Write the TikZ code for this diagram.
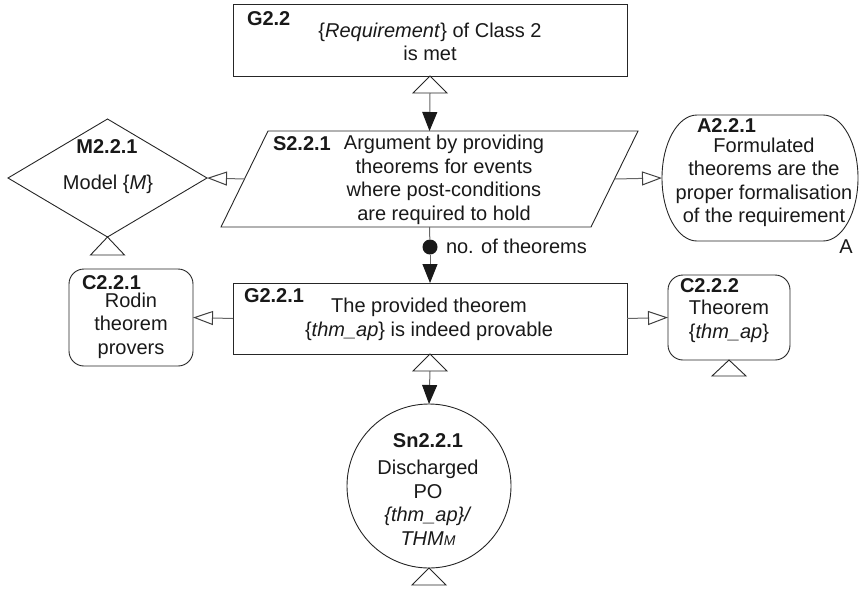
\documentclass[tikz,border=0pt]{standalone}
\usepackage{fontspec}
\setmainfont{Liberation Sans}
\usetikzlibrary{arrows.meta,shapes.geometric}
\begin{document}
\begin{tikzpicture}[x=1pt,y=-1pt,
  every node/.style={inner sep=0pt, outer sep=0pt},
  outline/.style={draw=black!85, line width=0.9pt},
  conn/.style={draw=black!60, line width=1pt},
  filltip/.style={-{Triangle[length=19pt,width=15pt,color=black!90]}},
  opentip/.style={-{Triangle[length=20pt,width=14pt,color=black!75,fill=white]}},
  inst/.style={outline, fill=white},
  txt/.style={font=\fontsize{20}{23.5}\selectfont, text=black!90, align=center},
  lab/.style={font=\fontsize{20}{23.5}\selectfont\bfseries, text=black!90},
  dotnode/.style={circle, fill=black!90, minimum size=15pt}]

\useasboundingbox (0,0) rectangle (861,592);

% --- shapes ---
\node[outline, rectangle, minimum width=394pt, minimum height=72pt] (g22) at (430,40) {};
% strategy: a parallelogram whose slanted sides shift by 47pt
\node[minimum width=417pt, minimum height=96pt] (s221) at (429.5,179) {};
\draw[outline] ([xshift=47pt]s221.north west) -- (s221.north east)
  -- ([xshift=-47pt]s221.south east) -- (s221.south west) -- cycle;
\node[outline, diamond, minimum width=199pt, minimum height=118pt] (m221) at (107.5,178) {};
\node[minimum width=196pt, minimum height=126pt] (a221) at (760,178) {};
\draw[outline] ([xshift=35pt]a221.north west) -- ([xshift=-35pt]a221.north east)
  arc[start angle=90, end angle=-90, x radius=35pt, y radius=63pt]
  -- ([xshift=35pt]a221.south west)
  arc[start angle=-90, end angle=-270, x radius=35pt, y radius=63pt];
\node[outline, rectangle, minimum width=394pt, minimum height=71pt] (g221) at (430,318.5) {};
\node[outline, rectangle, rounded corners=15pt, minimum width=124pt, minimum height=97pt] (c221) at (131,317.5) {};
\node[outline, rectangle, rounded corners=15pt, minimum width=122pt, minimum height=85pt] (c222) at (729,317.5) {};
\node[outline, circle, minimum size=164pt] (sn221) at (429,486) {};

% --- instantiation triangles ---
\draw[inst] (g22.south) -- ++(-17,17) -- ++(34,0) -- cycle;
\coordinate (g22t) at ([yshift=-17pt]g22.south);
\draw[inst] (m221.south) -- ++(-17,18) -- ++(34,0) -- cycle;
\draw[inst] (g221.south) -- ++(-17,17) -- ++(34,0) -- cycle;
\coordinate (g221t) at ([yshift=-17pt]g221.south);
\draw[inst] (c222.south) -- ++(-17,16) -- ++(34,0) -- cycle;
\draw[inst] (sn221.south) -- ++(-17,17) -- ++(34,0) -- cycle;

% --- connectors ---
\node[dotnode] (dot) at (430,247) {};
\draw[conn, filltip] (g22t) -- (s221.north);
\draw[conn, opentip] ([xshift=23.5pt]s221.west) -- (m221.east);
\draw[conn, opentip] ([xshift=-23.5pt]s221.east) -- (a221.west);
\draw[conn] (s221.south) -- (dot);
\draw[conn, filltip] (dot) -- (g221.north);
\draw[conn, opentip] (g221.west) -- (c221.east);
\draw[conn, opentip] (g221.east) -- (c222.west);
\draw[conn, filltip] (g221t) -- (sn221.north);

% --- identifiers ---
\node[lab, anchor=base west] (g22l) at (247,25) {G2.2};
\node[lab, anchor=base west] (s221l) at (273,150) {S2.2.1};
\node[lab, anchor=base] (m221l) at (107,153) {M2.2.1};
\node[lab, anchor=base west] (a221l) at (697,132) {A2.2.1};
\node[lab, anchor=base west] (g221l) at (244,302) {G2.2.1};
\node[lab, anchor=base west] (c221l) at (82,289) {C2.2.1};
\node[lab, anchor=base west] (c222l) at (680,292) {C2.2.2};
\node[lab, anchor=base] (sn221l) at (428,447) {Sn2.2.1};

% --- texts ---
\node[txt] (g22b) at (430,44.5) {\strut\{\textit{Requirement}\} of Class 2\\\strut is met};
\node[txt] (s221b) at (444,180.5) {\strut Argument by providing\\\strut theorems for events\\\strut where post-conditions\\\strut are required to hold};
\node[txt, anchor=base] (m221b) at (108,189) {Model \{\textit{M}\}};
\node[txt] (a221b) at (764,183) {\strut Formulated\\\strut theorems are the\\\strut proper formalisation\\\strut of the requirement};
\node[txt, anchor=base] (amark) at (846,253) {A};
\node[txt, anchor=base west] (nlab) at (446,253) {no. of theorems};
\node[txt] (g221b) at (429,320) {\strut The provided theorem\\\strut\{\textit{thm\_ap}\} is indeed provable};
\node[txt] (c221b) at (131,325.8) {\strut Rodin\\\strut theorem\\\strut provers};
\node[txt] (c222b) at (729,322) {\strut Theorem\\\strut\{\textit{thm\_ap}\}};
\node[txt] (sn221b) at (428,505.5) {\strut Discharged\\\strut PO\\\strut\textit{\{thm\_ap\}/}\\\strut\textit{THM{\fontsize{14}{14}\selectfont M}}};
\end{tikzpicture}
\end{document}
